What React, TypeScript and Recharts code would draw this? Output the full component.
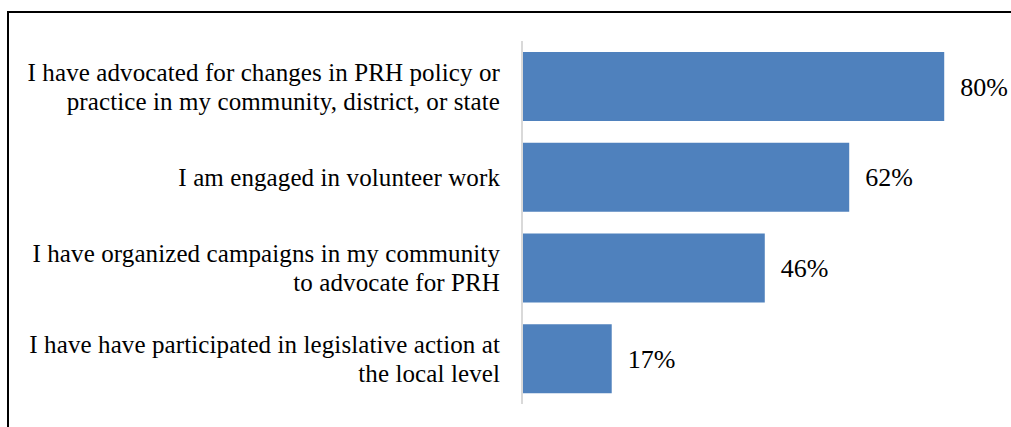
import React from 'react'
import { BarChart, Bar, XAxis, YAxis, LabelList } from 'recharts'

const categories = [
  'I have advocated for changes in PRH policy or|practice in my community, district, or state',
  'I am engaged in volunteer work',
  'I have organized campaigns in my community|to advocate for PRH',
  'I have have participated in legislative action at|the local level',
]
const shares = [80, 62, 46, 17]

const data = categories.map((name, i) => ({ name, value: shares[i] }))

const FONT = '"Liberation Serif", serif'

const CategoryTick = (props: any) => {
  const { x, y, payload } = props
  const lines: string[] = String(payload.value).split('|')
  const lineHeight = 29
  const start = -((lines.length - 1) * lineHeight) / 2
  return (
    <text x={x} y={y} textAnchor="end" fontFamily={FONT} fontSize={25} fill="#000" letterSpacing={0.1}>
      {lines.map((l, i) => (
        <tspan key={i} x={x} y={y + start + i * lineHeight} dy="0.35em">
          {l}
        </tspan>
      ))}
    </text>
  )
}

const App: React.FC = () => {
  return (
    <div style={{ position: 'absolute', left: 0, top: 0, width: 1011, height: 427, overflow: 'hidden', background: '#fff' }}>
      <div
        style={{
          position: 'absolute',
          left: 7,
          top: 11,
          width: 1100,
          height: 500,
          borderLeft: '2px solid #000',
          borderTop: '2px solid #000',
        }}
      />
      <div style={{ position: 'absolute', left: 0, top: 0 }}>
        <BarChart
          width={1011}
          height={427}
          data={data}
          layout="vertical"
          barCategoryGap="12%"
          margin={{ top: 41, right: 14, bottom: 23, left: 0 }}
        >
          <XAxis type="number" domain={[0, 90]} hide />
          <YAxis
            type="category"
            dataKey="name"
            width={522}
            tickLine={false}
            tickSize={0}
            tickMargin={22}
            axisLine={{ stroke: '#d9d9d9', strokeWidth: 2 }}
            tick={<CategoryTick />}
            interval={0}
          />
          <Bar dataKey="value" fill="#4f81bd" isAnimationActive={false}>
            <LabelList
              dataKey="value"
              position="right"
              offset={16}
              formatter={(v: any) => `${v}%`}
              fontFamily={FONT}
              fontSize={26}
              fill="#000"
            />
          </Bar>
        </BarChart>
      </div>
    </div>
  )
}

export default App
